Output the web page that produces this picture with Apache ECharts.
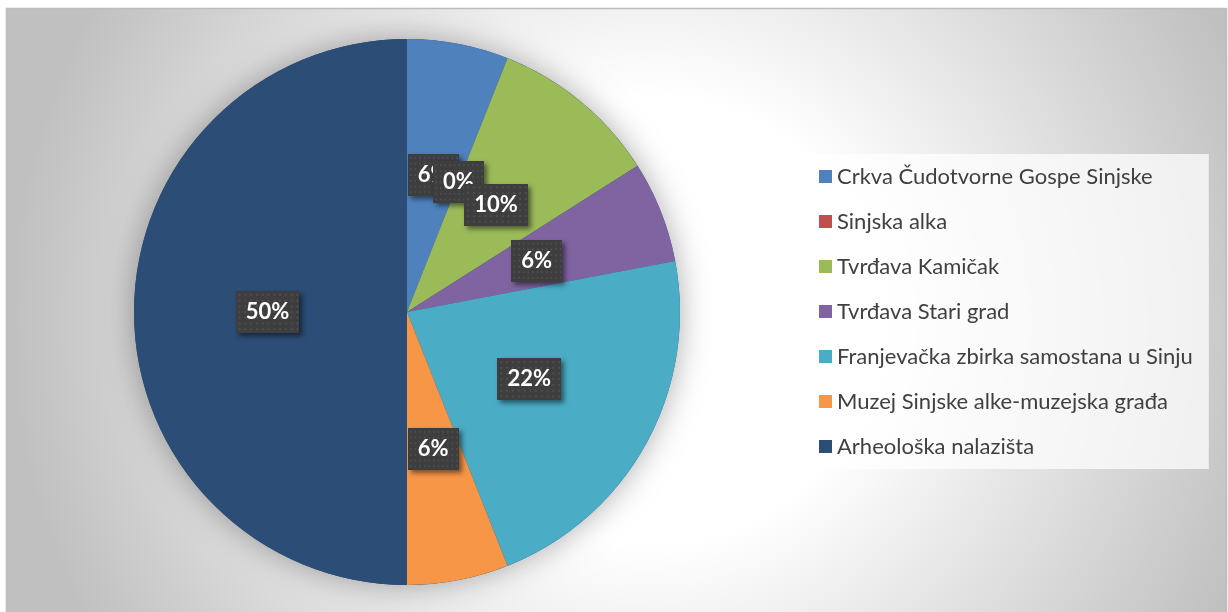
<!DOCTYPE html>
<html>
<head>
<meta charset="utf-8">
<script src="https://cdn.jsdelivr.net/npm/echarts@6/dist/echarts.min.js"></script>
<style>
  html, body { margin: 0; padding: 0; background: #ffffff; }
  #chart { width: 1228px; height: 612px; }
</style>
</head>
<body>
<div id="chart"></div>
<script>
// sites and their share (percent)
const sites = [
  "Crkva Čudotvorne Gospe Sinjske",
  "Sinjska alka",
  "Tvrđava Kamičak",
  "Tvrđava Stari grad",
  "Franjevačka zbirka samostana u Sinju",
  "Muzej Sinjske alke-muzejska građa",
  "Arheološka nalazišta",
];
const shares = [6, 0, 10, 6, 22, 6, 50];
const colors = ["#4F81BD", "#C0504D", "#9BBB59", "#8064A2", "#4BACC6", "#F79646", "#2C4D75"];

// dotted dark texture for the data labels
function makePattern() {
  const c = document.createElement("canvas");
  c.width = 66;
  c.height = 44;
  const ctx = c.getContext("2d");
  ctx.fillStyle = "#3e3e3e";
  ctx.fillRect(0, 0, c.width, c.height);
  ctx.fillStyle = "#4f4f4f";
  for (let y = 3; y < c.height; y += 6) {
    for (let x = 3; x < c.width; x += 6) {
      ctx.fillRect(x, y, 2, 2);
    }
  }
  return c;
}

const chart = echarts.init(document.getElementById("chart"));
const pattern = makePattern();

const option = {
  animation: false,
  graphic: [
    {
      type: "rect",
      z: -10,
      silent: true,
      shape: { x: 6.5, y: 8.5, width: 1220, height: 620 },
      style: {
        fill: new echarts.graphic.RadialGradient(650, 320, 640, [
          { offset: 0, color: "#ffffff" },
          { offset: 0.35, color: "#ffffff" },
          { offset: 1, color: "#c0c0c0" },
        ], true),
        stroke: "#bdbdbd",
        lineWidth: 1.5,
      },
    },
  ],
  legend: {
    orient: "vertical",
    left: 807,
    top: 154,
    data: sites,
    icon: "rect",
    itemWidth: 13,
    itemHeight: 13,
    itemGap: 20,
    padding: [10, 16, 10, 12],
    backgroundColor: "rgba(255,255,255,0.72)",
    selectedMode: false,
    textStyle: {
      fontFamily: "Lato",
      fontSize: 22,
      lineHeight: 25,
      color: "#404040",
    },
  },
  series: [
    {
      // backing disc that casts the soft shadow
      type: "pie",
      silent: true,
      z: 1,
      center: [407, 312],
      radius: 273,
      label: { show: false },
      labelLine: { show: false },
      data: [{ value: 1, name: "" }],
      itemStyle: {
        color: "#2C4D75",
        shadowBlur: 30,
        shadowColor: "rgba(0,0,0,0.32)",
      },
    },
    {
      type: "pie",
      z: 2,
      center: [407, 312],
      radius: 273,
      startAngle: 90,
      clockwise: true,
      percentPrecision: 0,
      minAngle: 0.01,
      minShowLabelAngle: 0,
      avoidLabelOverlap: false,
      labelLayout: { hideOverlap: false },
      color: colors,
      data: sites.map((name, i) => ({ name: name, value: shares[i] })),
      itemStyle: { borderWidth: 0 },
      emphasis: { disabled: true },
      label: {
        show: true,
        position: "inside",
        formatter: "{d}%",
        fontFamily: "Lato",
        fontWeight: "bold",
        fontSize: 22,
        color: "#ffffff",
        backgroundColor: { image: pattern },
        padding: [10, 10, 10, 10],
        shadowBlur: 5,
        shadowOffsetX: 3,
        shadowOffsetY: 3,
        shadowColor: "rgba(0,0,0,0.5)",
      },
      labelLine: { show: false },
    },
  ],
};

chart.setOption(option);
</script>
</body>
</html>
